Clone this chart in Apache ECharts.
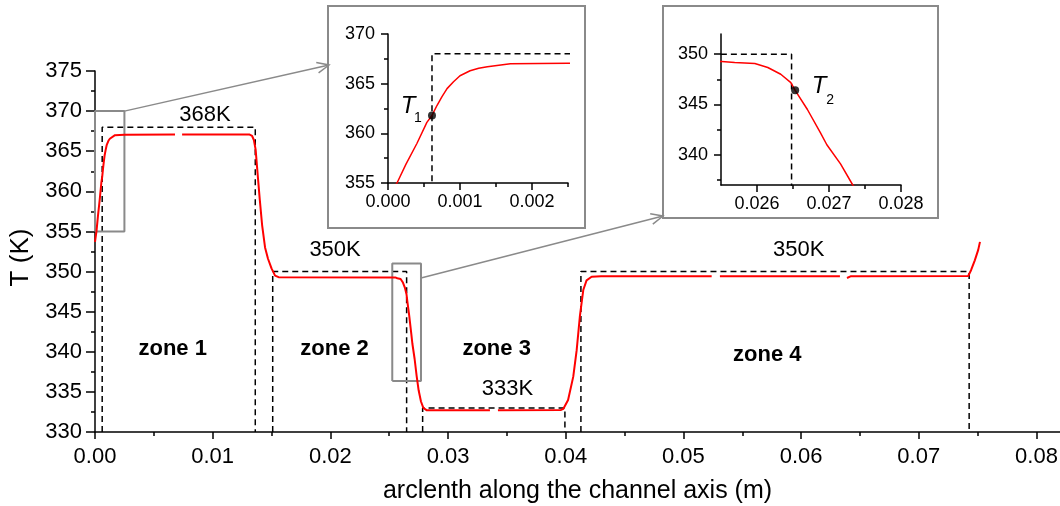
<!DOCTYPE html>
<html>
<head>
<meta charset="utf-8">
<script src="https://cdn.jsdelivr.net/npm/echarts@6/dist/echarts.min.js"></script>
<style>
  html, body { margin: 0; padding: 0; background: #fff; }
  #chart { width: 1060px; height: 506px; }
</style>
</head>
<body>
<div id="chart"></div>
<script>
// temperature along the channel axis (null = small gap in the curve)
const arcX = [
  0, 0.000125, 0.00025, 0.000403, 0.00054, 0.000611, 0.00068, 0.00075, 0.00082, 0.00091,
  0.001, 0.00114, 0.00126, 0.00138, 0.0017, 0.0025, 0.0068, 0.0071, 0.0074, 0.0131,
  0.01335, 0.0135, 0.01365, 0.0138, 0.0140, 0.0142, 0.01445, 0.0147, 0.0150, 0.0153,
  0.0156, 0.02551, 0.02569, 0.02597, 0.02615, 0.02633, 0.02647, 0.02653, 0.0267, 0.02688,
  0.02697, 0.02716, 0.02733, 0.0275, 0.0277, 0.0279, 0.0282, 0.03356, 0.0339, 0.03424,
  0.0396, 0.0398, 0.0402, 0.04064, 0.04093, 0.0412, 0.04149, 0.04177, 0.0422, 0.0430,
  0.0524, 0.05275, 0.0531, 0.0633, 0.0636, 0.0639, 0.0642, 0.0742, 0.07445, 0.07476,
  0.07505, 0.0752
];
const tempK = [
  353.7, 355.0, 356.9, 359.0, 361.1, 361.8, 362.8, 363.7, 364.5, 365.2,
  365.8, 366.3, 366.55, 366.7, 367.0, 367.05, 367.1, null, 367.1, 367.1,
  366.9, 366.4, 365.2, 362.5, 359.0, 355.8, 353.0, 351.6, 350.4, 349.5,
  349.3, 349.27, 349.17, 349.07, 348.67, 348.0, 347.17, 346.4, 344.5, 342.2,
  341.0, 339.1, 337.0, 335.2, 333.8, 333.0, 332.7, 332.7, null, 332.7,
  332.75, 332.9, 334.0, 336.9, 340.2, 344.4, 347.7, 348.9, 349.35, 349.4,
  349.4, null, 349.4, 349.4, null, 349.2, 349.4, 349.45, 350.2, 351.4,
  352.7, 353.7
];

// set temperatures of the four zones (dashed)
const ref1X = [0.000611, 0.000611, 0.01362, 0.01362];
const ref1T = [330, 368, 368, 330];
const ref2X = [0.0151, 0.0151, 0.02648, 0.02648];
const ref2T = [330, 350, 350, 330];
const ref3X = [0.02784, 0.02784, 0.03993, 0.03993];
const ref3T = [330, 333, 333, 330];
const ref4X = [0.04129, 0.04129, 0.07428, 0.07428];
const ref4T = [330, 350, 350, 330];

// zoomed regions
const box1X = [0, 0.0025, 0.0025, 0, 0];
const box1T = [355, 355, 370, 370, 355];
const box2X = [0.02526, 0.0277, 0.0277, 0.02526, 0.02526];
const box2T = [336.35, 336.35, 351, 351, 336.35];

// marked points T1, T2
const t1 = [0.000611, 361.8];
const t2 = [0.02653, 346.4];

// text labels
const zoneNames = ['zone 1', 'zone 2', 'zone 3', 'zone 4'];
const zoneX = [0.0066, 0.02036, 0.03413, 0.05713];
const zoneT = [340.3, 340.3, 340.3, 339.6];
const setNames = ['368K', '350K', '333K', '350K'];
const setX = [0.00934, 0.0204, 0.03504, 0.0598];
const setT = [369.56, 352.7, 335.35, 352.7];

// ticks
const mainXTicks = [0, 0.01, 0.02, 0.03, 0.04, 0.05, 0.06, 0.07, 0.08];
const mainXMinor = [0.005, 0.015, 0.025, 0.035, 0.045, 0.055, 0.065, 0.075];
const mainYTicks = [330, 335, 340, 345, 350, 355, 360, 365, 370, 375];
const mainYMinor = [332.5, 337.5, 342.5, 347.5, 352.5, 357.5, 362.5, 367.5, 372.5];
const in1XTicks = [0, 0.001, 0.002];
const in1XMinor = [0.0005, 0.0015, 0.0025];
const in1YTicks = [355, 360, 365, 370];
const in1YMinor = [357.5, 362.5, 367.5];
const in2XTicks = [0.026, 0.027, 0.028];
const in2XMinor = [0.0265, 0.0275];
const in2YTicks = [340, 345, 350];
const in2YMinor = [337.5, 342.5, 347.5];

const FONT = 'Liberation Sans, Arial, sans-serif';
const GREY = '#8a8a8a';

const pairs = (xs, ys) => xs.map((x, i) => [x, ys[i] === null ? '-' : ys[i]]);
const curve = pairs(arcX, tempK);

function majorAxis(gi, pos, min, max, ticks, o) {
  return {
    type: 'value', gridIndex: gi, position: pos, min: min, max: max,
    axisLine: { show: true, onZero: false, lineStyle: { color: '#000', width: 1.5 } },
    axisTick: { show: true, inside: false, customValues: ticks, length: o.tick, lineStyle: { color: '#000', width: 1.5 } },
    axisLabel: {
      customValues: ticks, color: '#000', fontFamily: FONT, fontSize: o.font,
      margin: o.margin, formatter: o.fmt
    },
    splitLine: { show: false },
    name: o.name || '', nameLocation: 'middle', nameGap: o.nameGap || 0,
    nameTextStyle: Object.assign({ color: '#000', fontFamily: FONT, fontSize: 25 }, o.nameStyle || {})
  };
}
// second axis on the same side, only for the short minor ticks
function minorAxis(gi, pos, min, max, ticks, len) {
  return {
    type: 'value', gridIndex: gi, position: pos, offset: 0, min: min, max: max,
    axisLine: { show: true, onZero: false, lineStyle: { color: 'rgba(0,0,0,0)', width: 1 } },
    axisTick: { show: true, inside: false, customValues: ticks, length: len, lineStyle: { color: '#000', width: 1.5 } },
    axisLabel: { show: false },
    splitLine: { show: false }
  };
}

const line = (data, xi, color, width, dashed) => ({
  type: 'line', data: data, xAxisIndex: xi, yAxisIndex: xi,
  showSymbol: false, symbol: 'none', silent: true, clip: true,
  lineStyle: { color: color, width: width, type: dashed ? [6, 4] : 'solid' },
  z: dashed ? 3 : 4
});

const chart = echarts.init(document.getElementById('chart'));
chart.setOption({
  animation: false,
  backgroundColor: '#fff',
  grid: [
    { left: 95, right: 0, top: 71, bottom: 74, outerBoundsMode: 'none', containLabel: false },
    { left: 388, top: 34, width: 180, height: 149, outerBoundsMode: 'none', containLabel: false },
    { left: 721, top: 34, width: 180, height: 151, outerBoundsMode: 'none', containLabel: false }
  ],
  xAxis: [
    majorAxis(0, 'bottom', 0, 0.082, mainXTicks, { tick: 7, font: 22, margin: 14, fmt: v => v.toFixed(2),
      name: 'arclenth along the channel axis (m)', nameGap: 47 }),
    minorAxis(0, 'bottom', 0, 0.082, mainXMinor, 4),
    majorAxis(1, 'bottom', 0, 0.0025, in1XTicks, { tick: 7, font: 18, margin: 10, fmt: v => v.toFixed(3) }),
    minorAxis(1, 'bottom', 0, 0.0025, in1XMinor, 4),
    majorAxis(2, 'bottom', 0.0255, 0.028, in2XTicks, { tick: 7, font: 18, margin: 10, fmt: v => v.toFixed(3) }),
    minorAxis(2, 'bottom', 0.0255, 0.028, in2XMinor, 4)
  ],
  yAxis: [
    majorAxis(0, 'left', 330, 375, mainYTicks, { tick: 9, font: 22, margin: 13, fmt: v => String(v),
      name: 'T (K)', nameGap: 61, nameStyle: { fontSize: 26, padding: [0, 12, 0, 0] } }),
    minorAxis(0, 'left', 330, 375, mainYMinor, 4),
    majorAxis(1, 'left', 355, 370, in1YTicks, { tick: 7, font: 18, margin: 13, fmt: v => String(v) }),
    minorAxis(1, 'left', 355, 370, in1YMinor, 4),
    majorAxis(2, 'left', 337, 352, in2YTicks, { tick: 7, font: 18, margin: 13, fmt: v => String(v) }),
    minorAxis(2, 'left', 337, 352, in2YMinor, 4)
  ],
  series: [
    line(pairs(ref1X, ref1T), 0, '#000', 1.5, true),
    line(pairs(ref2X, ref2T), 0, '#000', 1.5, true),
    line(pairs(ref3X, ref3T), 0, '#000', 1.5, true),
    line(pairs(ref4X, ref4T), 0, '#000', 1.5, true),
    line(pairs(box1X, box1T), 0, GREY, 2, false),
    line(pairs(box2X, box2T), 0, GREY, 2, false),
    line(curve, 0, '#ff0000', 2, false),
    // inset 1
    line(pairs(ref1X, ref1T), 2, '#000', 1.5, true),
    line(curve, 2, '#ff0000', 1.5, false),
    { type: 'scatter', xAxisIndex: 2, yAxisIndex: 2, data: [t1], symbolSize: 8,
      itemStyle: { color: '#000' }, z: 5 },
    // inset 2
    line(pairs(ref2X, ref2T), 4, '#000', 1.5, true),
    line(curve, 4, '#ff0000', 1.5, false),
    { type: 'scatter', xAxisIndex: 4, yAxisIndex: 4, data: [t2], symbolSize: 8,
      itemStyle: { color: '#000' }, z: 5 }
  ]
});

// inset frames, arrows and text placed through the axes
function arrow(from, to) {
  const a = Math.atan2(to[1] - from[1], to[0] - from[0]);
  const L = 13, s = 0.42;
  const h1 = [to[0] - L * Math.cos(a - s), to[1] - L * Math.sin(a - s)];
  const h2 = [to[0] - L * Math.cos(a + s), to[1] - L * Math.sin(a + s)];
  return [
    { type: 'polyline', z: 10, shape: { points: [from, to] }, style: { stroke: GREY, lineWidth: 1.5 } },
    { type: 'polyline', z: 10, shape: { points: [h1, to, h2] }, style: { stroke: GREY, lineWidth: 1.5, fill: null } }
  ];
}
const txt = (x, y, text, size, italic, bold) => ({
  type: 'text', x: x, y: y, z: 10,
  style: { text: text, fontSize: size, fontFamily: FONT, fontStyle: italic ? 'italic' : 'normal',
    fontWeight: bold ? 'bold' : 'normal', fill: '#000', align: 'center', verticalAlign: 'middle' }
});
const toMain = p => chart.convertToPixel({ xAxisIndex: 0, yAxisIndex: 0 }, p);

const b1 = toMain([0.0025, 370]);
const b2 = toMain([0.0277, 349.2]);
const p1 = chart.convertToPixel({ xAxisIndex: 2, yAxisIndex: 2 }, t1);
const p2 = chart.convertToPixel({ xAxisIndex: 4, yAxisIndex: 4 }, t2);

const labels = [];
zoneNames.forEach((n, i) => {
  const p = toMain([zoneX[i], zoneT[i]]);
  labels.push(txt(p[0], p[1], n, 22, false, true));
});
setNames.forEach((n, i) => {
  const p = toMain([setX[i], setT[i]]);
  labels.push(txt(p[0], p[1], n, 22, false, false));
});

chart.setOption({
  graphic: [
    { type: 'rect', z: -10, shape: { x: 328, y: 6, width: 257, height: 222 },
      style: { fill: '#fff', stroke: GREY, lineWidth: 2 } },
    { type: 'rect', z: -10, shape: { x: 663, y: 6, width: 275, height: 212 },
      style: { fill: '#fff', stroke: GREY, lineWidth: 2 } },
    ...arrow(b1, [329, 65]),
    ...arrow(b2, [663, 216]),
    ...labels,
    txt(p1[0] - 24, p1[1] - 9, 'T', 24, true),
    txt(p1[0] - 14, p1[1] + 3, '1', 14, false),
    txt(p2[0] + 24, p2[1] - 4, 'T', 24, true),
    txt(p2[0] + 35, p2[1] + 10, '2', 14, false)
  ]
});
</script>
</body>
</html>
